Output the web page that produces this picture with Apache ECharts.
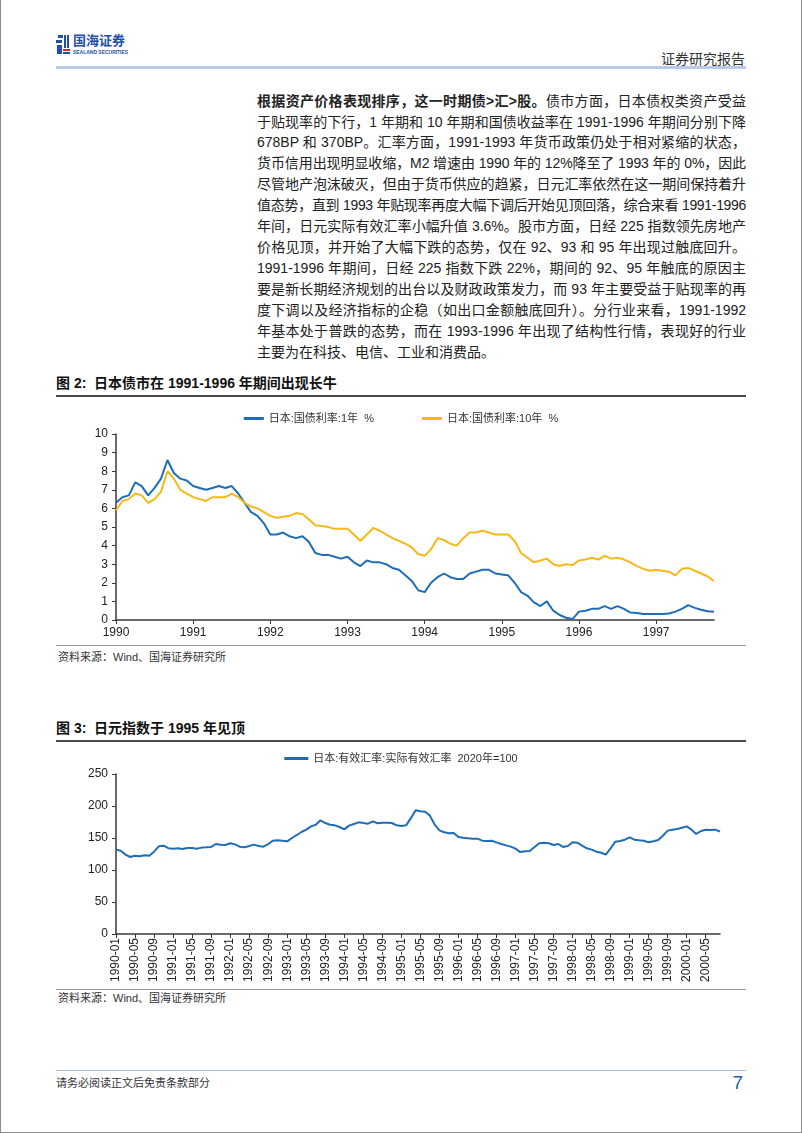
<!DOCTYPE html>
<html>
<head>
<meta charset="utf-8">
<script src="https://cdn.jsdelivr.net/npm/echarts@6/dist/echarts.min.js"></script>
<style>
body { margin: 0; background: #fff; }
#page { position: relative; width: 800px; height: 1132px; border: 1px solid #8c8c8c; border-top: none;
        font-family: "Liberation Sans", "Noto Sans CJK SC", sans-serif; color: #222; overflow: hidden; }
.abs { position: absolute; }
.line { position: absolute; left: 256px; width: 489px; height: 21px; line-height: 21px; font-size: 14px;
        text-align: justify; text-align-last: justify; white-space: nowrap; }
.line.last { text-align-last: left; }
.figtitle { position: absolute; left: 55px; font-size: 14px; font-weight: bold; line-height: 16px; color: #111; }
.rule { position: absolute; left: 55px; width: 690px; }
.src { position: absolute; left: 57px; font-size: 11px; line-height: 13px; color: #333; }
.blue { position: absolute; background: #1f4fa8; }
</style>
</head>
<body>
<div id="page">
  <!-- header -->
  <div class="blue" style="left:57px;top:35px;width:5px;height:3px"></div>
  <div class="blue" style="left:55px;top:40px;width:6px;height:3px"></div>
  <div class="blue" style="left:56px;top:45px;width:5px;height:9px"></div>
  <div class="blue" style="left:63px;top:35px;width:2px;height:13px"></div>
  <div class="blue" style="left:66px;top:35px;width:2px;height:13px"></div>
  <div class="abs" style="left:62px;top:49px;width:7px;height:2px;background:#d9262c"></div>
  <div class="blue" style="left:62px;top:52px;width:7px;height:2px"></div>
  <div class="abs" style="left:72px;top:34px;font-size:13px;line-height:14px;font-weight:bold;color:#1f4fa8">国海证券</div>
  <div class="abs" style="left:72px;top:50px;font-size:8px;line-height:8px;color:#1f4fa8;transform:scale(0.62,0.7);transform-origin:0 0;white-space:nowrap;font-weight:bold">SEALAND SECURITIES</div>
  <div class="abs" style="right:56px;top:48px;font-size:14px;color:#333">证券研究报告</div>
  <div class="rule" style="top:66px;height:3px;background:#b8cbe9"></div>

  <!-- paragraph -->
  <div class="line" style="top:91px"><b>根据资产价格表现排序，这一时期债&gt;汇&gt;股。</b>债市方面，日本债权类资产受益</div>
  <div class="line" style="top:112px">于贴现率的下行，1 年期和 10 年期和国债收益率在 1991-1996 年期间分别下降</div>
  <div class="line" style="top:132px">678BP 和 370BP。汇率方面，1991-1993 年货币政策仍处于相对紧缩的状态，</div>
  <div class="line" style="top:153px">货币信用出现明显收缩，M2 增速由 1990 年的 12%降至了 1993 年的 0%，因此</div>
  <div class="line" style="top:174px">尽管地产泡沫破灭，但由于货币供应的趋紧，日元汇率依然在这一期间保持着升</div>
  <div class="line" style="top:195px">值态势，直到 1993 年贴现率再度大幅下调后开始见顶回落，综合来看 1991-1996</div>
  <div class="line" style="top:216px">年间，日元实际有效汇率小幅升值 3.6%。股市方面，日经 225 指数领先房地产</div>
  <div class="line" style="top:237px">价格见顶，并开始了大幅下跌的态势，仅在 92、93 和 95 年出现过触底回升。</div>
  <div class="line" style="top:258px">1991-1996 年期间，日经 225 指数下跌 22%，期间的 92、95 年触底的原因主</div>
  <div class="line" style="top:279px">要是新长期经济规划的出台以及财政政策发力，而 93 年主要受益于贴现率的再</div>
  <div class="line" style="top:300px">度下调以及经济指标的企稳（如出口金额触底回升）。分行业来看，1991-1992</div>
  <div class="line" style="top:321px">年基本处于普跌的态势，而在 1993-1996 年出现了结构性行情，表现好的行业</div>
  <div class="line last" style="top:342px">主要为在科技、电信、工业和消费品。</div>

  <!-- figure 2 -->
  <div class="figtitle" style="top:375px">图 2:&nbsp; 日本债市在 1991-1996 年期间出现长牛</div>
  <div class="rule" style="top:395px;height:2px;background:#4a4a4a"></div>
  <div id="chart1" class="abs" style="left:50px;top:400px;width:700px;height:245px"></div>
  <div class="rule" style="top:645px;height:1px;background:#9a9a9a"></div>
  <div class="src" style="top:651px">资料来源：Wind、国海证券研究所</div>

  <!-- figure 3 -->
  <div class="figtitle" style="top:720px">图 3:&nbsp; 日元指数于 1995 年见顶</div>
  <div class="rule" style="top:740px;height:2px;background:#4a4a4a"></div>
  <div id="chart2" class="abs" style="left:50px;top:745px;width:700px;height:243px"></div>
  <div class="rule" style="top:989px;height:1px;background:#9a9a9a"></div>
  <div class="src" style="top:992px">资料来源：Wind、国海证券研究所</div>

  <!-- footer -->
  <div class="rule" style="top:1070px;height:1px;background:#a9c0e4"></div>
  <div class="src" style="left:55px;top:1077px">请务必阅读正文后免责条款部分</div>
  <div class="abs" style="right:58px;top:1072px;font-size:19px;color:#1f5cb0">7</div>
</div>

<script>
// squeeze paragraph lines that are a bit too long for the column
document.querySelectorAll('.line').forEach(el => {
  const extra = el.scrollWidth - el.clientWidth;
  if (extra > 0) {
    const n = el.textContent.length;
    el.style.letterSpacing = (-(extra + 1) / n) + 'px';
  }
});

// chart 1: JGB yields, monthly, 1990-01 .. 1997-10
const bondStart = 1990;
const bondCount = 94;
const bond1y = [
  6.3, 6.6, 6.7, 7.4, 7.2, 6.7, 7.1, 7.6, 8.6, 7.9, 7.6, 7.5,   // 1990
  7.2, 7.1, 7.0, 7.1, 7.2, 7.1, 7.2, 6.8, 6.3, 5.8, 5.6, 5.2,   // 1991
  4.6, 4.6, 4.7, 4.5, 4.4, 4.5, 4.2, 3.6, 3.5, 3.5, 3.4, 3.3,   // 1992
  3.4, 3.1, 2.9, 3.2, 3.1, 3.1, 3.0, 2.8, 2.7, 2.4, 2.1, 1.6,   // 1993
  1.5, 2.0, 2.3, 2.5, 2.3, 2.2, 2.2, 2.5, 2.6, 2.7, 2.7, 2.5,   // 1994
  2.45, 2.4, 2.0, 1.5, 1.3, 0.95, 0.75, 1.0, 0.5, 0.27, 0.12, 0.05, // 1995
  0.45, 0.5, 0.6, 0.6, 0.75, 0.6, 0.75, 0.6, 0.4, 0.38, 0.32, 0.32, // 1996
  0.32, 0.32, 0.35, 0.45, 0.6, 0.8, 0.65, 0.55, 0.47, 0.45          // 1997
];
const bond10y = [
  5.9, 6.4, 6.5, 6.8, 6.7, 6.3, 6.5, 6.9, 8.0, 7.6, 7.0, 6.8,   // 1990
  6.6, 6.5, 6.4, 6.6, 6.6, 6.6, 6.8, 6.6, 6.3, 6.1, 6.0, 5.8,   // 1991
  5.6, 5.5, 5.55, 5.6, 5.75, 5.7, 5.4, 5.1, 5.05, 5.0, 4.9, 4.9, // 1992
  4.9, 4.6, 4.25, 4.6, 4.95, 4.8, 4.6, 4.4, 4.25, 4.1, 3.9, 3.55, // 1993
  3.45, 3.8, 4.4, 4.3, 4.1, 4.0, 4.4, 4.7, 4.7, 4.8, 4.7, 4.6,  // 1994
  4.6, 4.6, 4.25, 3.6, 3.35, 3.1, 3.2, 3.3, 3.0, 2.9, 3.0, 2.95, // 1995
  3.2, 3.25, 3.35, 3.25, 3.45, 3.3, 3.35, 3.25, 3.1, 2.9, 2.75, 2.65, // 1996
  2.7, 2.65, 2.6, 2.4, 2.75, 2.8, 2.65, 2.5, 2.35, 2.1               // 1997
];
const bondNames = ['日本:国债利率:1年  %', '日本:国债利率:10年  %'];

// chart 2: real effective exchange rate, monthly, 1990-01 .. 2000-08
const reerStart = 1990;
const reerCount = 128;
const reer = [
  131.8, 130, 124, 120.3, 122.4, 121.4, 123, 122.4, 128.6, 137, 138, 134,        // 1990
  133.3, 134, 132.8, 134.4, 134.4, 133.3, 135, 135.4, 136, 140.6, 139.6, 139,    // 1991
  141.7, 140, 136.5, 135.4, 137.5, 139.6, 137.5, 136.5, 140.6, 145.8, 146.4, 145.8, // 1992
  144.8, 150, 154.7, 159.4, 163, 168.2, 170.8, 177.6, 173.4, 170.8, 169.8, 167.2, // 1993
  163.5, 169.3, 171.9, 174.5, 173.4, 172.4, 176, 173, 174, 174, 173.4, 169.8,    // 1994
  168.8, 169.8, 181, 193.2, 191.7, 191, 185, 171, 162, 159, 157.3, 157.8,        // 1995
  151.6, 150.5, 149.5, 149, 149, 145.8, 145.3, 145.8, 143.2, 140.6, 138.5, 136.5, // 1996
  133.3, 128, 129.2, 129.7, 136, 141.7, 142.7, 141.7, 139, 140.6, 136, 137.5,    // 1997
  143.2, 142.7, 138, 133.9, 131.8, 128.6, 127, 124, 133.9, 144.3, 145.3, 147.4,  // 1998
  151, 147.4, 146.4, 145.8, 143.2, 144.8, 146.9, 153.6, 161.5, 163, 164, 166.1,  // 1999
  168.2, 163, 156.3, 160.9, 163, 162.5, 163, 160                                 // 2000
];
const reerName = '日本:有效汇率:实际有效汇率  2020年=100';

const months = (startYear, n) => {
  const out = [];
  for (let i = 0; i < n; i++) {
    const y = startYear + Math.floor(i / 12);
    const m = (i % 12) + 1;
    out.push(y + '-' + (m < 10 ? '0' + m : m));
  }
  return out;
};

const FONT = '"Liberation Sans", "Noto Sans CJK SC", sans-serif';
const BLUE = '#1f6db8';
const GOLD = '#f6b81a';
const axisCol = '#3a3a3a';

const chart1 = echarts.init(document.getElementById('chart1'));
chart1.setOption({
  animation: false,
  textStyle: { fontFamily: FONT },
  legend: {
    top: 8, left: 'center', itemGap: 48, itemWidth: 20, itemHeight: 3, icon: 'rect',
    textStyle: { fontSize: 11, color: '#333', fontFamily: FONT },
    data: bondNames
  },
  grid: { left: 65, right: 37, top: 34, bottom: 25 },
  xAxis: {
    type: 'category', boundaryGap: false, data: months(bondStart, bondCount),
    axisLine: { lineStyle: { color: axisCol, width: 1.5 } },
    axisTick: { interval: 11, length: 4, lineStyle: { color: axisCol } },
    axisLabel: { interval: 11, formatter: v => v.slice(0, 4), fontSize: 12, color: '#222', margin: 7 }
  },
  yAxis: {
    type: 'value', min: 0, max: 10, interval: 1,
    splitLine: { show: false },
    axisLine: { show: true, lineStyle: { color: axisCol, width: 1.5 } },
    axisTick: { show: true, length: 4, lineStyle: { color: axisCol } },
    axisLabel: { fontSize: 12, color: '#222', margin: 8 }
  },
  series: [
    { name: bondNames[0], type: 'line', data: bond1y, showSymbol: false, lineStyle: { color: BLUE, width: 2 }, itemStyle: { color: BLUE } },
    { name: bondNames[1], type: 'line', data: bond10y, showSymbol: false, lineStyle: { color: GOLD, width: 2 }, itemStyle: { color: GOLD } }
  ]
});

const chart2 = echarts.init(document.getElementById('chart2'));
chart2.setOption({
  animation: false,
  textStyle: { fontFamily: FONT },
  legend: {
    top: 3, left: 'center', itemWidth: 24, itemHeight: 3, icon: 'rect',
    textStyle: { fontSize: 11, color: '#333', fontFamily: FONT },
    data: [reerName]
  },
  grid: { left: 65, right: 31, top: 29, bottom: 54 },
  xAxis: {
    type: 'category', boundaryGap: false, data: months(reerStart, reerCount),
    axisLine: { lineStyle: { color: axisCol, width: 1.5 } },
    axisTick: { interval: 3, length: 4, lineStyle: { color: axisCol } },
    axisLabel: { interval: 3, rotate: 90, fontSize: 12, color: '#222', margin: 4 }
  },
  yAxis: {
    type: 'value', min: 0, max: 250, interval: 50,
    splitLine: { show: false },
    axisLine: { show: true, lineStyle: { color: axisCol, width: 1.5 } },
    axisTick: { show: true, length: 4, lineStyle: { color: axisCol } },
    axisLabel: { fontSize: 12, color: '#222', margin: 8 }
  },
  series: [
    { name: reerName, type: 'line', data: reer, showSymbol: false, lineStyle: { color: BLUE, width: 2 }, itemStyle: { color: BLUE } }
  ]
});
</script>
</body>
</html>
